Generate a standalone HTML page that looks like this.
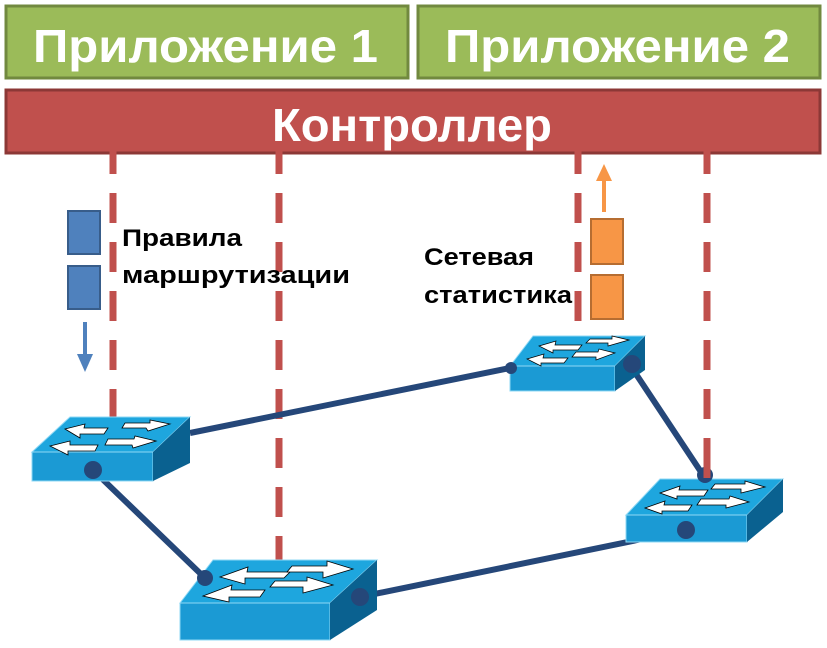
<!DOCTYPE html>
<html><head><meta charset="utf-8"><style>
html,body{margin:0;padding:0;background:#fff;width:827px;height:648px;overflow:hidden}
svg{display:block}
text{font-family:"Liberation Sans",sans-serif;font-weight:bold}
</style></head><body>
<svg width="827" height="648" viewBox="0 0 827 648" xmlns="http://www.w3.org/2000/svg">
<defs>
<g id="arrows">
</g>
</defs>
<!-- headers -->
<rect x="6" y="6" width="402" height="72" fill="#9bbb59" stroke="#71893f" stroke-width="3"/>
<rect x="418" y="6" width="402" height="72" fill="#9bbb59" stroke="#71893f" stroke-width="3"/>
<text x="33" y="62" font-size="46" fill="#fff" textLength="345" lengthAdjust="spacingAndGlyphs">Приложение 1</text>
<text x="445" y="62" font-size="46" fill="#fff" textLength="345" lengthAdjust="spacingAndGlyphs">Приложение 2</text>
<rect x="6" y="90" width="814" height="63" fill="#c0504d" stroke="#8c3836" stroke-width="3"/>
<text x="272" y="141" font-size="46" fill="#fff" textLength="280" lengthAdjust="spacingAndGlyphs">Контроллер</text>

<!-- dashed lines -->
<g stroke="#c0504d" stroke-width="7" stroke-dasharray="30 19">
<line x1="113" y1="144" x2="113" y2="420"/>
<line x1="279" y1="144" x2="279" y2="562"/>
<line x1="578" y1="144" x2="578" y2="340"/>
<line x1="707" y1="144" x2="707" y2="482"/>
</g>

<!-- blue rects and arrow -->
<rect x="68" y="211" width="32" height="43" fill="#4f81bd" stroke="#385d8a" stroke-width="2"/>
<rect x="68" y="266" width="32" height="43" fill="#4f81bd" stroke="#385d8a" stroke-width="2"/>
<line x1="85" y1="322" x2="85" y2="355" stroke="#4f81bd" stroke-width="4"/>
<polygon points="77,354 93,354 85,372" fill="#4f81bd"/>
<!-- orange -->
<rect x="591" y="219" width="32" height="45" fill="#f79646" stroke="#b66d31" stroke-width="2"/>
<rect x="591" y="275" width="32" height="44" fill="#f79646" stroke="#b66d31" stroke-width="2"/>
<line x1="604" y1="212" x2="604" y2="180" stroke="#f79646" stroke-width="4"/>
<polygon points="596,181 612,181 604,164" fill="#f79646"/>

<text x="122" y="246" font-size="24" fill="#000" textLength="120" lengthAdjust="spacingAndGlyphs">Правила</text>
<text x="122" y="283" font-size="24" fill="#000" textLength="228" lengthAdjust="spacingAndGlyphs">маршрутизации</text>
<text x="424" y="265" font-size="24" fill="#000" textLength="110" lengthAdjust="spacingAndGlyphs">Сетевая</text>
<text x="424" y="303" font-size="24" fill="#000" textLength="148" lengthAdjust="spacingAndGlyphs">статистика</text>

<!-- links -->
<g stroke="#254779" stroke-width="6" fill="none">
<line x1="190" y1="433" x2="510" y2="368"/>
<line x1="93" y1="470" x2="205" y2="578"/>
<line x1="360" y1="597" x2="686" y2="530"/>
<line x1="632" y1="368" x2="705" y2="478"/>
</g>

<!-- switch 1 -->
<g>
<polygon points="32,452 70,417 190,417 153,452" fill="#1ea6de" stroke="#8fd8f5" stroke-width="1"/>
<rect x="32" y="452" width="121" height="29" fill="#1b9ad4" stroke="#8fd8f5" stroke-width="1"/>
<polygon points="153,452 190,417 190,463 153,481" fill="#0a6190"/>
<g fill="#fff" stroke="#000" stroke-width="0.8">
<polygon points="65,429 85,424 84,428 108,428 104,434 80,434 80,438"/>
<polygon points="170,424 150,420 150,423 125,423 122,428 146,428 148,431"/>
<polygon points="50,446 70,441 70,445 98,445 95,451 68,451 68,455"/>
<polygon points="156,441 135,436 134,439 108,439 105,445 132,445 133,448"/>
</g>
</g>
<!-- switch 2 -->
<g>
<polygon points="180,603 213,560 377,560 330,603" fill="#1ea6de" stroke="#8fd8f5" stroke-width="1"/>
<rect x="180" y="603" width="150" height="37" fill="#1b9ad4" stroke="#8fd8f5" stroke-width="1"/>
<polygon points="330,603 377,560 377,610 330,640" fill="#0a6190"/>
<g fill="#fff" stroke="#000" stroke-width="0.8">
<polygon points="220,577 248,567 247,572 290,572 284,578 245,578 245,584"/>
<polygon points="353,569 327,561 327,566 292,566 287,572 323,572 323,578"/>
<polygon points="203,596 232,585 231,590 265,590 260,597 229,597 229,602"/>
<polygon points="333,585 307,577 307,581 275,581 270,587 303,587 303,593"/>
</g>
</g>
<!-- switch 3 -->
<g>
<polygon points="510,366 533,336 645,336 615,366" fill="#1ea6de" stroke="#8fd8f5" stroke-width="1"/>
<rect x="510" y="366" width="105" height="25" fill="#1b9ad4" stroke="#8fd8f5" stroke-width="1"/>
<polygon points="615,366 645,336 645,370 615,391" fill="#0a6190"/>
<g fill="#fff" stroke="#000" stroke-width="0.7">
<polygon points="539,346 556,341 555,345 582,345 578,350 553,350 553,353"/>
<polygon points="629,340 612,336 612,339 590,339 586,343 608,343 608,346"/>
<polygon points="527,359 544,354 543,358 568,358 564,363 541,363 541,366"/>
<polygon points="615,353 599,349 598,352 576,352 572,357 596,357 596,360"/>
</g>
</g>
<!-- switch 4 -->
<g>
<polygon points="626,515 660,479 783,479 747,515" fill="#1ea6de" stroke="#8fd8f5" stroke-width="1"/>
<rect x="626" y="515" width="121" height="27" fill="#1b9ad4" stroke="#8fd8f5" stroke-width="1"/>
<polygon points="747,515 783,479 783,512 747,542" fill="#0a6190"/>
<g fill="#fff" stroke="#000" stroke-width="0.8">
<polygon points="660,493 680,486 679,490 708,490 704,496 677,496 677,499"/>
<polygon points="765,487 745,481 745,484 715,484 711,489 741,489 741,493"/>
<polygon points="645,508 665,501 664,505 692,505 688,511 662,511 662,514"/>
<polygon points="749,502 730,496 729,499 701,499 697,505 726,505 726,508"/>
</g>
</g>

<!-- dots -->
<g fill="#254779">
<circle cx="93" cy="470" r="9"/>
<circle cx="205" cy="578" r="8"/>
<circle cx="360" cy="597" r="9"/>
<circle cx="686" cy="530" r="9"/>
<circle cx="632" cy="364" r="9"/>
<circle cx="705" cy="475" r="8"/>
<circle cx="511" cy="368" r="6"/>
</g>
<line x1="707" y1="460" x2="707" y2="478" stroke="#c0504d" stroke-width="7"/>
</svg>
</body></html>
